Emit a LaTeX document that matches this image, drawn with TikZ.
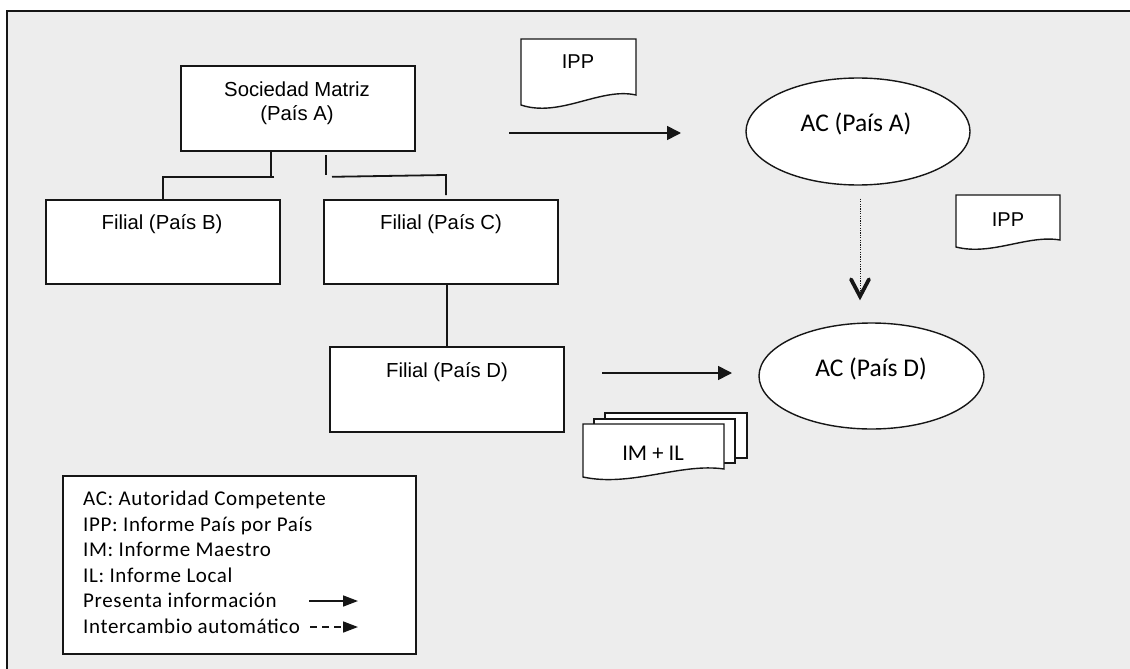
\documentclass[tikz,border=0pt]{standalone}
\usepackage{fontspec}
\setmainfont{Liberation Sans}
\newfontfamily\calib{Carlito}
\newfontfamily\calibwide[LetterSpace=3]{Carlito}
\usetikzlibrary{arrows.meta,shapes.geometric,calc}
\definecolor{canvas}{RGB}{237,237,237}
\definecolor{ink}{RGB}{22,22,22}

% document sheet with a wavy lower edge: x0, y0, width, height (right side), drop of the left corner
\newcommand\docsheet[5]{%
  \draw[docline] (#1,#2) -- ({#1+#3},#2) -- ({#1+#3},{#2+#4})
    .. controls ({#1+0.69*#3},{#2+#4-0.8*#5}) and ({#1+0.34*#3},{#2+#4+2.3*#5}) ..
    (#1,{#2+#4+#5}) -- cycle;}

\begin{document}
\begin{tikzpicture}[x=1pt,y=-1pt,
  orgbox/.style={draw=ink, fill=white, line width=1.8pt, minimum width=234pt,
                 minimum height=85pt, inner sep=0pt, anchor=north west},
  orgtext/.style={font=\fontsize{20.3}{24}\selectfont, anchor=base, inner sep=0pt},
  orgline/.style={draw=ink, line width=1.8pt},
  authority/.style={ellipse, draw=ink, fill=white, line width=1.4pt, inner sep=0pt},
  authtext/.style={font=\calib\fontsize{25.5}{28}\selectfont, anchor=base, inner sep=0pt},
  docline/.style={draw=ink, fill=white, line width=1.4pt},
  doctext/.style={font=\fontsize{20}{24}\selectfont, anchor=base, inner sep=0pt},
  flow/.style={draw=ink, line width=1.6pt, -{Triangle[length=14pt,width=14pt]}},
  xchg/.style={draw=ink, line width=1pt, dash pattern=on 1.2pt off 1.2pt},
  chevron/.style={draw=ink, line width=3.8pt, line cap=round, line join=miter},
  legtext/.style={font=\calibwide\fontsize{21}{25}\selectfont, anchor=base west, inner sep=0pt},
  legflow/.style={draw=ink, line width=1.6pt, -{Triangle[length=15pt,width=11pt]}},
  legxchg/.style={draw=ink, line width=1.6pt, dash pattern=on 7pt off 5pt,
                  -{Triangle[length=15pt,width=11pt]}}
]
\useasboundingbox (0,0) rectangle (1130,669);
\fill[white] (0,0) rectangle (1130,669);
\fill[canvas] (7,11) rectangle (1130,669);
\draw[ink, line width=1.2pt] (1130,11) -- (7,11) -- (7,669);

% organisation chart
\node[orgbox] (matriz)  at (180,65)  {};
\node[orgbox, minimum height=84pt] (filialB) at (45,199)  {};
\node[orgbox, minimum height=84pt] (filialC) at (323,199) {};
\node[orgbox] (filialD) at (329,346) {};

\node[orgtext] (matrizT1) at (297,96.5) {Sociedad Matriz};
\node[orgtext] (matrizT2) at (297,120.5) {(País A)};
\node[orgtext] (filialBT) at (162,229) {Filial (País B)};
\node[orgtext] (filialCT) at (441,229) {Filial (País C)};
\node[orgtext] (filialDT) at (447,377) {Filial (País D)};

\coordinate (jL) at ($(matriz.south west)+(91,25)$);
\draw[orgline] ($(matriz.south west)+(91,0)$) -- (jL);
\draw[orgline] ($(jL)+(3,0)$) -- (jL -| filialB.north) -- (filialB.north);

\coordinate (jR1) at ($(matriz.south west)+(146,3)$);
\coordinate (jR2) at ($(matriz.south west)+(146,23)$);
\coordinate (jR3) at ($(matriz.south west)+(152,25)$);
\coordinate (jR4) at ($(filialC.north west)+(123,-24)$);
\coordinate (jR5) at ($(filialC.north west)+(123,-4)$);
\draw[orgline] (jR1) -- (jR2);
\draw[orgline] (jR3) -- (jR4) -- (jR5);

\draw[orgline] (filialD.north) -- (filialD.north |- filialC.south);

% competent authorities
\node[authority, minimum width=224pt, minimum height=107pt] (acA) at (858,131.5) {};
\node[authority, minimum width=225pt, minimum height=106pt] (acD) at (871.5,376) {};
\node[authtext] (acAT) at (856,131) {AC (País A)};
\node[authtext] (acDT) at (871,376) {AC (País D)};

% reports
\docsheet{521}{39}{115}{56}{10}
\node[doctext] (ippA) at (578,69) {IPP};
\docsheet{956}{195}{104}{45}{7}
\node[doctext] (ippB) at (1008,226) {IPP};

\draw[docline] (605,413) rectangle (747,458);
\draw[docline] (594,419) rectangle (735,463);
\docsheet{583}{424}{141}{45}{8}
\node[authtext, font=\calib\fontsize{22.5}{26}\selectfont] (imil) at (653,460) {IM + IL};

% flows
\coordinate (fA1) at (509,133);
\coordinate (fA2) at (681,133);
\draw[flow] (fA1) -- (fA2);
\coordinate (fD1) at (602,373);
\coordinate (fD2) at (732,373);
\draw[flow] (fD1) -- (fD2);
\coordinate (xA) at ($(acA.south)+(2,13)$);
\coordinate (xD) at ($(acD.north)+(-11.5,-26)$);
\draw[xchg] (xA) -- (xD);
\draw[chevron] ($(xD)+(-9,-17)$) -- (xD) -- ($(xD)+(9,-17)$);

% legend
\node[orgbox, minimum width=353pt, minimum height=178pt] (legend) at (62,475) {};
\node[legtext] (l1) at (83,505.5) {AC: Autoridad Competente};
\node[legtext] (l2) at (83,531.1) {IPP: Informe País por País};
\node[legtext] (l3) at (83,556.7) {IM: Informe Maestro};
\node[legtext] (l4) at (83,582.3) {IL: Informe Local};
\node[legtext] (l5) at (83,607.9) {Presenta información};
\node[legtext] (l6) at (83,633.5) {Intercambio automático};
\coordinate (lf1) at (309,601);
\coordinate (lf2) at (358,601);
\coordinate (lx1) at (310,627);
\coordinate (lx2) at (358,627);
\draw[legflow] (lf1) -- (lf2);
\draw[legxchg] (lx1) -- (lx2);
\end{tikzpicture}
\end{document}
